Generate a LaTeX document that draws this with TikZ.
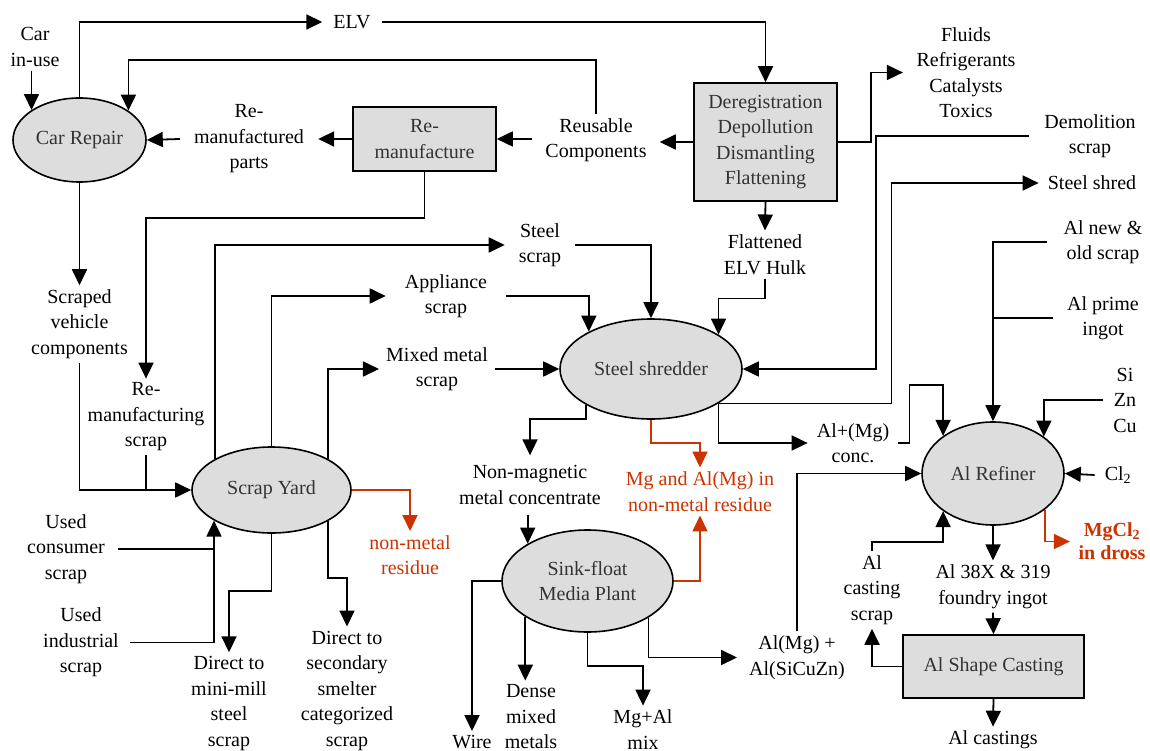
\documentclass[tikz,border=0pt]{standalone}
\usepackage{fontspec}
\setmainfont{Liberation Serif}
\usetikzlibrary{arrows.meta,calc,shapes.geometric}
\definecolor{redo}{HTML}{CC3300}
\definecolor{shade}{HTML}{DDDDDD}
\definecolor{inktext}{HTML}{333333}
\begin{document}
\begin{tikzpicture}[x=1pt,y=-1pt,
  every node/.style={font=\fontsize{20}{25.5}\selectfont},
  lbl/.style={align=center, inner xsep=14pt, inner ysep=4pt},
  ell/.style={ellipse, draw, fill=shade, line width=1.6pt, inner sep=0pt, text=inktext, align=center},
  pbox/.style={rectangle, draw, fill=shade, line width=1.6pt, inner sep=0pt, text=inktext, align=center},
  arr/.style={line width=1.8pt, -{Triangle[length=16pt,width=15pt]}},
  ln/.style={line width=1.8pt},
  rarr/.style={arr, draw=redo, color=redo},
  rtxt/.style={lbl, text=redo}]
\useasboundingbox[fill=white] (0,0) rectangle (1150,751);

% ---------- process nodes ----------
\node[ell, minimum width=133pt, minimum height=84pt] (cr) at (79.5,140) {Car Repair};
\node[pbox, minimum width=143pt, minimum height=64pt] (rmbox) at (424.5,139) {Re-\\manufacture};
\node[pbox, minimum width=143pt, minimum height=118pt] (dbox) at (765.5,142) {Deregistration\\Depollution\\Dismantling\\Flattening};
\node[ell, minimum width=182pt, minimum height=100pt] (shred) at (651,369) {Steel shredder};
\node[ell, minimum width=159pt, minimum height=86pt] (sy) at (271.5,490) {Scrap Yard};
\node[ell, minimum width=171pt, minimum height=102pt] (sf) at (587.5,581) {Sink-float\\Media Plant};
\node[ell, minimum width=142pt, minimum height=103pt] (ref) at (993,473.5) {Al Refiner};
\node[pbox, minimum width=181pt, minimum height=63pt] (casting) at (993.5,666.5) {Al Shape Casting};

% ---------- labels ----------
\node[lbl] (incar) at (35,47) {Car\\in-use};
\node[lbl, inner xsep=11pt] (elv) at (352,22) {ELV};
\node[lbl] (rmparts) at (249,139) {Re-\\manufactured\\parts};
\node[lbl, inner xsep=13pt] (reuse) at (596,140) {Reusable\\Components};
\node[lbl, inner xsep=13.5pt] (fluids) at (966,72.5) {Fluids\\Refrigerants\\Catalysts\\Toxics};
\node[lbl, inner xsep=15.5pt] (demo) at (1090,136) {Demolition\\scrap};
\node[lbl, inner xsep=9pt] (sshred) at (1092,183) {Steel shred};
\node[lbl] (flat) at (765,254.5) {Flattened\\ELV Hulk};
\node[lbl] (svc) at (79.5,324) {Scraped\\vehicle\\components};
\node[lbl] (rmscrap) at (146,417) {Re-\\manufacturing\\scrap};
\node[lbl] (steelscrap) at (540,245) {Steel\\scrap};
\node[lbl, inner xsep=19pt] (appl) at (446,296) {Appliance\\scrap};
\node[lbl, inner xsep=7pt] (mixed) at (437,369) {Mixed metal\\scrap};
\node[lbl, inner xsep=16.5pt] (alnew) at (1103,242) {Al new \&\\old scrap};
\node[lbl] (alprime) at (1103,318) {Al prime\\ingot};
\node[lbl, inner xsep=10.5pt] (sizncu) at (1125,400) {Si\\Zn\\Cu};
\node[lbl, inner xsep=9pt] (alconc) at (853,443) {Al+(Mg)\\conc.};
\node[lbl, inner ysep=10pt] (nonmag) at (530,485) {Non-magnetic\\metal concentrate};
\node[rtxt] (mgres) at (700,491.5) {Mg and Al(Mg) in\\non-metal residue};
\node[rtxt] (nmres) at (410,555) {non-metal\\residue};
\node[lbl, inner xsep=13pt] (usedcons) at (66,549) {Used\\consumer\\scrap};
\node[lbl, inner xsep=11pt] (usedind) at (81,642.5) {Used\\industrial\\scrap};
\node[lbl] (minimill) at (229,703.5) {Direct to\\mini-mill\\steel\\scrap};
\node[lbl] (smelter) at (347,690.5) {Direct to\\secondary\\smelter\\categorized\\scrap};
\node[lbl] (wire) at (472,742) {Wire};
\node[lbl] (dense) at (531,717) {Dense\\mixed\\metals};
\node[lbl] (mgal) at (643,729.5) {Mg+Al\\mix};
\node[lbl, inner xsep=12pt] (almg) at (797,657.5) {Al(Mg) +\\Al(SiCuZn)};
\node[lbl, inner xsep=10pt] (cl2) at (1118,475) {Cl\textsubscript{2}};
\node[rtxt, inner xsep=8.5pt, font=\fontsize{20}{23}\selectfont\bfseries] (mgcl) at (1112,541.5) {MgCl\textsubscript{2}\\in dross};
\node[lbl] (ingot) at (993,586.5) {Al 38X \& 319\\foundry ingot};
\node[lbl] (castings) at (993,740) {Al castings};
\node[lbl] (castscrap) at (872,590) {Al\\casting\\scrap};

% ---------- connectors ----------
\draw[arr] (incar.south -| cr.148.25) -- (cr.148.25);
\draw[arr] (cr.north) |- (elv.west);
\draw[arr] (elv.east) -| (dbox.north);
\draw[arr] (reuse.north) -- ++(0,-54) -| (cr.31.75);
\draw[arr] (dbox.west) -- (dbox.west -| reuse.east);
\draw[arr] (rmbox.east -| reuse.west) -- (rmbox.east);
\draw[arr] (rmbox.west) -- (rmparts.east);
\draw[arr] (rmparts.west) -- (cr.east);
\draw[arr] (rmbox.south) -- ++(0,46) -| (rmscrap.north);
\draw[arr] (cr.south) -- (svc.north);
\draw[arr] (svc.south) |- (sy.west);
\draw[ln] (rmscrap.south) -- (rmscrap.south |- sy.west);
\draw[arr] (dbox.east) -- ++(33,0) |- (fluids.west);
\draw[arr] (dbox.south) -- (flat.north);
\draw[arr] (flat.south) -- ++(0,20) -| (shred.27.5);
\draw[arr] (demo.west) -- ++(-153,0) |- (shred.east);
\draw[arr] (shred.-27) -- ++(173,0) |- (sshred.west);
\draw[arr] (shred.-27) |- (alconc.west);
\draw[arr] (alconc.east) -- ++(11,0) -- ++(0,-58) -| (ref.143.8);
\draw[arr] (sy.151.8) |- (steelscrap.west);
\draw[arr] (steelscrap.east) -| (shred.north);
\draw[arr] (sy.north) |- (appl.west);
\draw[arr] (appl.east) -| (shred.149.4);
\draw[arr] (sy.29.9) |- (mixed.west);
\draw[arr] (mixed.east) -- (shred.west);
\draw[arr] (alnew.west) -| (ref.north);
\draw[ln] (alprime.west) -- (alprime.west -| ref.north);
\draw[arr] (sizncu.west) -| (ref.36.2);
\draw[arr] (cl2.west) -- (ref.east);
\draw[rarr] (ref.-35.1) |- (mgcl.west);
\draw[arr] (ref.south) -- (ingot.north);
\draw[arr] (ingot.south) -- (casting.north);
\draw[arr] (casting.south) -- (castings.north);
\draw[arr] (casting.west) -| (castscrap.south);
\draw[arr] (castscrap.north) -- ++(0,-9) -| (ref.217.3);
\draw[arr] (almg.north) |- (ref.west);
\draw[rarr] (sy.east) -| (nmres.north);
\draw[arr] (usedind.east) -| (sy.208.2);
\draw[ln] (usedcons.east) -- (usedcons.east -| sy.208.2);
\draw[arr] (sy.south) -- ++(0,57) -| (minimill.north);
\draw[arr] (sy.-29.9) -- ++(0,57) -| (smelter.north);
\draw[arr] (shred.209.8) -- ++(0,14) -| (nonmag.north);
\draw[rarr] (shred.south) -- ++(0,23) -| (mgres.north);
\draw[arr] (nonmag.south -| sf.148.4) -- (sf.148.4);
\draw[arr] (sf.west) -| (wire.north);
\draw[arr] (sf.210.7) -- (sf.210.7 |- dense.north);
\draw[arr] (sf.south) -- ++(0,33) -| (mgal.north);
\draw[arr] (sf.-31.6) |- (almg.west);
\draw[rarr] (sf.east) -| (mgres.south);
\end{tikzpicture}
\end{document}
